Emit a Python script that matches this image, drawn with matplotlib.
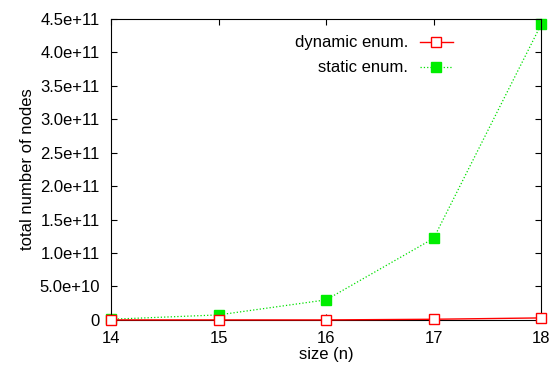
import matplotlib.pyplot as plt

sizes = [14, 15, 16, 17, 18]
dynamic_nodes = [0.0, 0.0, 0.0, 1.0e9, 3.0e9]
static_nodes = [1.0e9, 7.5e9, 3.0e10, 1.22e11, 4.42e11]
yticks = [0, 5e10, 1e11, 1.5e11, 2e11, 2.5e11, 3e11, 3.5e11, 4e11, 4.5e11]
ytick_labels = ['0', '5.0e+10', '1.0e+11', '1.5e+11', '2.0e+11', '2.5e+11',
                '3.0e+11', '3.5e+11', '4.0e+11', '4.5e+11']

plt.rcParams['font.family'] = ['Liberation Sans', 'DejaVu Sans']
plt.rcParams['font.size'] = 12

fig = plt.figure(figsize=(5.5, 3.72), dpi=100)
ax = fig.add_axes([0.202, 0.140, 0.782, 0.809])

ax.plot(sizes, dynamic_nodes, color='red', lw=1, marker='s', ms=6.5,
        mfc='white', mec='red', mew=1, label='dynamic enum.', zorder=3, clip_on=False)
ax.plot(sizes, static_nodes, color='#00e000', lw=0.9, ls=':', marker='s', ms=6.5,
        mfc='#00ee00', mec='#00ee00', label='static enum.', zorder=2, clip_on=False)

ax.set_xlim(14, 18)
ax.set_ylim(0, 4.5e11)
ax.set_xticks(sizes)
ax.set_yticks(yticks)
ax.set_yticklabels(ytick_labels)
ax.tick_params(direction='in', top=True, right=True, length=4, width=0.8, pad=8)
ax.set_xlabel('size (n)', labelpad=1)
ax.set_ylabel('total number of nodes', labelpad=3)

ax.legend(loc='upper right', bbox_to_anchor=(0.83, 0.995), frameon=False,
          markerfirst=False, handlelength=2.0, handletextpad=0.7, labelspacing=0.6)

fig.savefig('out.png', dpi=100)
